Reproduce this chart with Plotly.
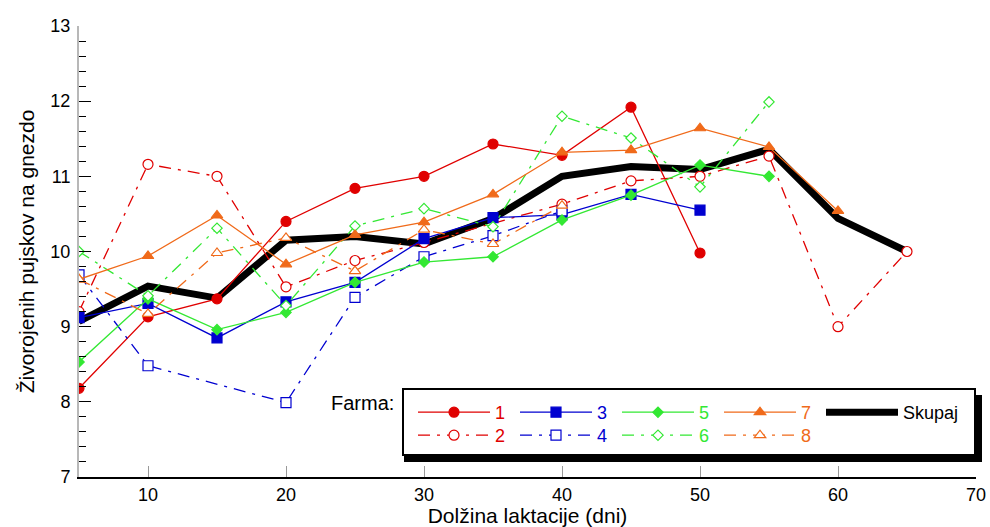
import plotly.graph_objects as go

# ---------------- data ----------------
lactation_days = [5, 10, 15, 20, 25, 30, 35, 40, 45, 50, 55, 60, 65]

farm1 = [8.18, 9.13, 9.37, 10.40, 10.84, 11.00, 11.43, 11.28, 11.92, 9.98]
farm2 = [9.20, 11.16, 11.00, 9.53, 9.88, 10.12, None, 10.63, 10.94, 11.00, 11.27, 9.00, 10.00]
farm3 = [9.12, 9.31, 8.85, 9.33, 9.59, 10.17, 10.45, 10.49, 10.76, 10.55]
farm4 = [9.69, 8.48, None, 7.99, 9.39, 9.93, 10.21, 10.54]
farm5 = [8.53, 9.37, 8.96, 9.19, 9.59, 9.86, 9.93, 10.42, 10.75, 11.15, 11.00]
farm6 = [10.00, 9.41, 10.31, 9.28, 10.34, 10.57, 10.33, 11.80, 11.51, 10.86, 11.99]
farm7 = [9.63, 9.94, 10.48, 9.83, 10.22, 10.39, 10.76, 11.32, 11.35, 11.64, 11.39, 10.54]
farm8 = [9.63, 9.17, 9.98, 10.18, 9.74, 10.29, 10.10, 10.61]
skupaj = [9.07, 9.54, 9.38, 10.15, 10.20, 10.10, 10.44, 11.00, 11.13, 11.09, 11.36, 10.44, 10.00]

farm_labels = ["1", "2", "3", "4", "5", "6", "7", "8"]
total_label = "Skupaj"
legend_title = "Farma:"
x_title = "Dolžina laktacije (dni)"
y_title = "Živorojenih pujskov na gnezdo"

# ---------------- style ----------------
RED, BLUE, GREEN, ORANGE = "#e00000", "#0000d0", "#33e833", "#f06a1a"
DASHDOT = "12px,7px,3px,7px"
FONT = "Liberation Sans, Arial, Helvetica, sans-serif"

W, H = 990, 527
PL, PR, PT, PB = 79, 976, 26, 477   # plot area in pixels


def px(x):
    return (x - PL) / (PR - PL)


def py(y):
    return (PB - y) / (PB - PT)


fig = go.Figure()

# total (drawn underneath)
fig.add_trace(go.Scatter(
    x=lactation_days[:len(skupaj)], y=skupaj, mode="lines",
    name=total_label, line=dict(color="black", width=7),
    legend="legend", legendrank=9, legendwidth=80))

series = [
    (farm1, RED, "solid", "circle", True, 10, "legend", 1),
    (farm2, RED, DASHDOT, "circle", False, 10, "legend2", 2),
    (farm3, BLUE, "solid", "square", True, 10, "legend", 3),
    (farm4, BLUE, DASHDOT, "square", False, 10, "legend2", 4),
    (farm5, GREEN, "solid", "diamond", True, 8, "legend", 5),
    (farm6, GREEN, DASHDOT, "diamond", False, 8, "legend2", 6),
    (farm7, ORANGE, "solid", "triangle-up", True, 10, "legend", 7),
    (farm8, ORANGE, DASHDOT, "triangle-up", False, 10, "legend2", 8),
]

for (vals, col, dash, sym, filled, size, leg, rank), lab in zip(series, farm_labels):
    fig.add_trace(go.Scatter(
        x=lactation_days[:len(vals)], y=vals, mode="lines+markers",
        connectgaps=True,
        name=f'<span style="color:{col}">{lab}</span>',
        line=dict(color=col, width=1.3, dash=dash),
        marker=dict(symbol=sym, size=size,
                    color=col if filled else "white",
                    line=dict(color=col, width=1.2)),
        legend=leg, legendrank=rank))

legend_common = dict(
    orientation="h", xanchor="left", yanchor="top",
    itemwidth=72, entrywidth=15, entrywidthmode="pixels",
    bgcolor="rgba(0,0,0,0)", borderwidth=0,
    font=dict(family=FONT, size=18, color="black"),
    traceorder="normal")

fig.update_layout(
    width=W, height=H,
    margin=dict(l=PL, r=W - PR, t=PT, b=H - PB, autoexpand=False),
    paper_bgcolor="white", plot_bgcolor="white",
    font=dict(family=FONT, size=18, color="black"),
    legend=dict(x=px(413), y=py(394), **legend_common),
    legend2=dict(x=px(413), y=py(417), **legend_common),
    xaxis=dict(
        range=[5, 70], tick0=0, dtick=10, automargin=False,
        showgrid=False, zeroline=False,
        showline=True, linecolor="black", linewidth=2,
        ticks="inside", ticklen=11, tickwidth=1, tickcolor="#999999",
        tickfont=dict(size=18),
        title=dict(text=x_title, font=dict(size=21), standoff=2),
    ),
    yaxis=dict(
        range=[7, 13], tick0=7, dtick=1, automargin=False,
        showgrid=False, zeroline=False,
        showline=True, linecolor="#b8b8b8", linewidth=2,
        ticks="inside", ticklen=12, tickwidth=1.2, tickcolor="black",
        ticklabelstandoff=3,
        tickfont=dict(size=18),
        minor=dict(ticks="inside", ticklen=7, dtick=0.2, tickwidth=1.2,
                   tickcolor="black", showgrid=False),
        title=dict(text=y_title, font=dict(size=21), standoff=10),
    ),
    shapes=[
        dict(type="rect", xref="paper", yref="paper", layer="above",
             x0=px(404), x1=px(982), y0=py(462), y1=py(395),
             fillcolor="black", line=dict(width=0)),
        dict(type="rect", xref="paper", yref="paper", layer="above",
             x0=px(403), x1=px(975), y0=py(455), y1=py(389),
             fillcolor="white", line=dict(color="black", width=2)),
    ],
    annotations=[
        dict(text=legend_title, xref="paper", yref="paper",
             x=px(396), y=py(403), xanchor="right", yanchor="middle",
             showarrow=False, font=dict(size=20, color="black")),
    ],
)

fig.write_html("out.html", config={"displayModeBar": False},
               post_script="document.body.style.margin='0px';")
